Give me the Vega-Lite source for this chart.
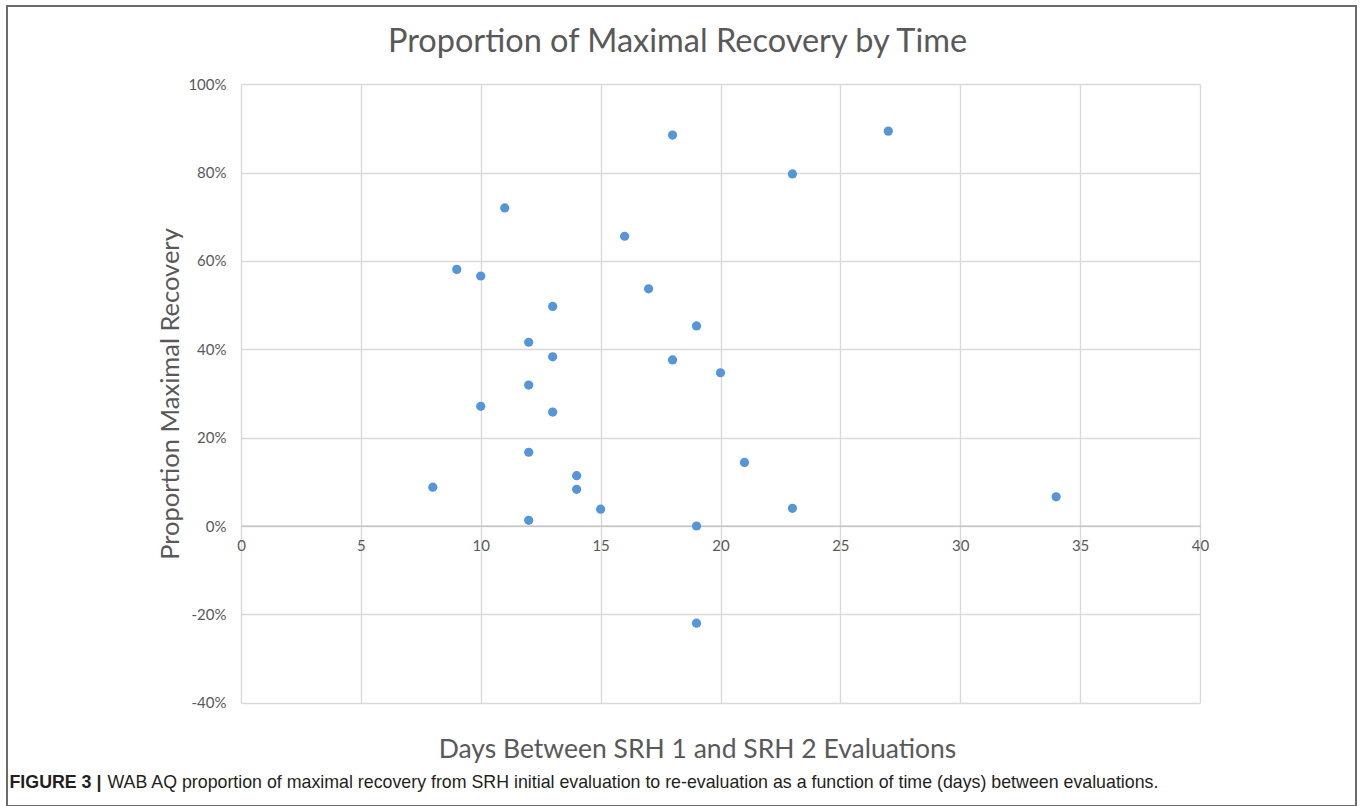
{
  "$schema": "https://vega.github.io/schema/vega-lite/v6.json",
  "autosize": "none",
  "padding": {"left": 7, "top": 6, "right": 7, "bottom": 0},
  "width": 1349,
  "height": 800,
  "background": "white",
  "title": {
    "text": "Proportion of Maximal Recovery by Time",
    "anchor": "middle",
    "orient": "top",
    "offset": -52,
    "dx": -4,
    "font": "Lato",
    "fontSize": 32.5,
    "fontWeight": "normal",
    "color": "#595959"
  },
  "data": {
    "values": [
      {"days": 18, "prop": 0.885},
      {"days": 27, "prop": 0.894},
      {"days": 23, "prop": 0.797},
      {"days": 11, "prop": 0.720},
      {"days": 16, "prop": 0.656},
      {"days": 9, "prop": 0.581},
      {"days": 10, "prop": 0.566},
      {"days": 17, "prop": 0.537},
      {"days": 13, "prop": 0.497},
      {"days": 19, "prop": 0.453},
      {"days": 12, "prop": 0.416},
      {"days": 13, "prop": 0.383},
      {"days": 18, "prop": 0.376},
      {"days": 20, "prop": 0.347},
      {"days": 12, "prop": 0.319},
      {"days": 10, "prop": 0.271},
      {"days": 13, "prop": 0.258},
      {"days": 12, "prop": 0.167},
      {"days": 21, "prop": 0.144},
      {"days": 14, "prop": 0.114},
      {"days": 14, "prop": 0.083},
      {"days": 8, "prop": 0.088},
      {"days": 34, "prop": 0.066},
      {"days": 15, "prop": 0.038},
      {"days": 23, "prop": 0.040},
      {"days": 12, "prop": 0.013},
      {"days": 19, "prop": 0.000},
      {"days": 19, "prop": -0.220}
    ]
  },
  "layer": [
    {
      "mark": {"type": "point", "opacity": 0},
      "encoding": {
        "x": {
          "field": "days",
          "type": "quantitative",
          "scale": {"domain": [0, 40], "range": [234, 1193], "nice": false, "zero": false},
          "axis": {
            "orient": "top",
            "values": [0, 5, 10, 15, 20, 25, 30, 35, 40],
            "labels": false,
            "ticks": false,
            "domain": false,
            "grid": true,
            "gridColor": "#d9d9d9",
            "gridWidth": 1.4,
            "title": null
          }
        },
        "y": {
          "field": "prop",
          "type": "quantitative",
          "scale": {"domain": [-0.4, 1], "range": [696.7, 78.3], "nice": false, "zero": false},
          "axis": null
        }
      }
    },
    {
      "mark": {"type": "point", "filled": true, "opacity": 1, "size": 85, "color": "#5596d8"},
      "encoding": {
        "x": {
          "field": "days",
          "type": "quantitative",
          "axis": {
            "orient": "bottom",
            "offset": -280.3,
            "values": [0, 5, 10, 15, 20, 25, 30, 35, 40],
            "ticks": false,
            "labelFlush": false,
            "labelOverlap": false,
            "labelPadding": 13,
            "labelFont": "Lato",
            "labelFontSize": 15,
            "labelColor": "#595959",
            "domainColor": "#c4c4c4",
            "domainWidth": 1.5,
            "grid": false,
            "title": "Days Between SRH 1 and SRH 2 Evaluations",
            "titleFont": "Lato",
            "titleFontSize": 26.5,
            "titleFontWeight": "normal",
            "titleColor": "#595959",
            "titleX": 690,
            "titleY": 224,
            "titleAlign": "center",
            "titleBaseline": "middle"
          }
        },
        "y": {
          "field": "prop",
          "type": "quantitative",
          "axis": {
            "orient": "left",
            "offset": -234,
            "values": [-0.4, -0.2, 0, 0.2, 0.4, 0.6, 0.8, 1],
            "labelExpr": "(datum.value < 0 ? '-' : '') + format(abs(datum.value), '.0%')",
            "ticks": false,
            "domain": false,
            "labelFlush": false,
            "labelOverlap": false,
            "labelPadding": 15,
            "labelFont": "Lato",
            "labelFontSize": 15,
            "labelColor": "#595959",
            "grid": true,
            "gridColor": "#d9d9d9",
            "gridWidth": 1.4,
            "title": "Proportion Maximal Recovery",
            "titleFont": "Lato",
            "titleFontSize": 25.5,
            "titleFontWeight": "normal",
            "titleColor": "#595959",
            "titleX": -71,
            "titleBaseline": "middle"
          }
        }
      }
    },
    {
      "mark": {"type": "point", "opacity": 0},
      "encoding": {
        "x": {
          "field": "days",
          "type": "quantitative",
          "axis": {
            "orient": "bottom",
            "labels": false,
            "ticks": false,
            "domain": false,
            "grid": false,
            "title": "FIGURE 3 |",
            "titleFont": "Liberation Sans",
            "titleFontSize": 17.8,
            "titleFontWeight": "bold",
            "titleColor": "#231f20",
            "titleX": 2,
            "titleY": -24,
            "titleAlign": "left",
            "titleBaseline": "middle"
          }
        }
      }
    },
    {
      "mark": {"type": "point", "opacity": 0},
      "encoding": {
        "x": {
          "field": "days",
          "type": "quantitative",
          "axis": {
            "orient": "bottom",
            "labels": false,
            "ticks": false,
            "domain": false,
            "grid": false,
            "title": "WAB AQ proportion of maximal recovery from SRH initial evaluation to re-evaluation as a function of time (days) between evaluations.",
            "titleFont": "Liberation Sans",
            "titleFontSize": 17.8,
            "titleFontWeight": "normal",
            "titleColor": "#231f20",
            "titleX": 100,
            "titleY": -24,
            "titleAlign": "left",
            "titleBaseline": "middle",
            "titleLimit": 0
          }
        }
      }
    }
  ],
  "resolve": {"axis": {"x": "independent", "y": "independent"}},
  "config": {
    "view": {"stroke": "#6b6b6b", "strokeWidth": 2, "fill": "white"}
  }
}
